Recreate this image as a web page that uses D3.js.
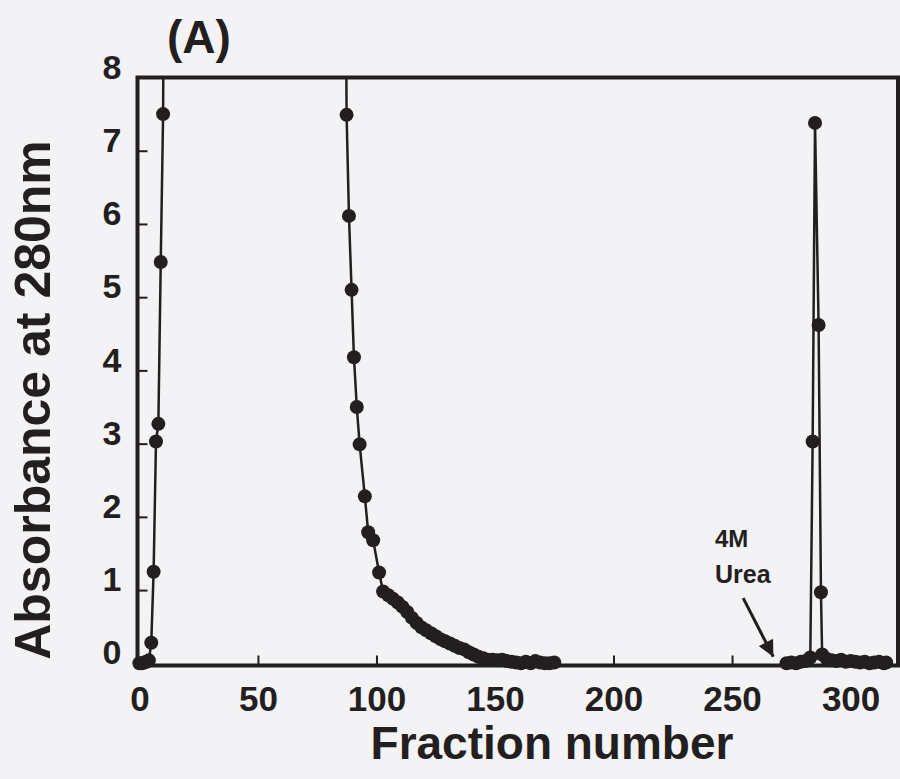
<!DOCTYPE html>
<html lang="en">

<head>
    <meta charset="UTF-8">
    <title>Fraction profile (A)</title>
    <script src='https://d3js.org/d3.v7.min.js'></script>
    <style>
        body { margin: 0; background: #f3f2f4; }
        text { font-family: "Liberation Sans", Arial, Helvetica, sans-serif; font-weight: bold; fill: #231f20; }
    </style>
</head>

<body>
    <script>
        // run 1: load + wash (11 and 86 are off scale, > 8)
        const fracRun1 = [0, 1, 2, 3, 4, 5, 6, 7, 8, 9, 10, 11,
            86, 87.4, 88.4, 89.5, 90.5, 91.7, 92.9, 95.1, 96.5, 98.6, 101.1, 102.8,
            105, 107, 109, 111, 113, 115, 117, 119, 121, 123, 125, 127, 129, 131, 133, 135, 137, 139,
            141, 143, 145, 147, 149, 151, 153, 155, 157, 159, 161, 163, 165, 167, 169, 171, 173, 175];
        const absRun1 = [0, 0, 0.01, 0.02, 0.04, 0.28, 1.25, 3.03, 3.27, 5.48, 7.5, 15,
            15, 7.49, 6.11, 5.1, 4.18, 3.5, 2.99, 2.28, 1.79, 1.68, 1.24, 0.98,
            0.93, 0.88, 0.83, 0.77, 0.7, 0.62, 0.55, 0.49, 0.45, 0.41, 0.37, 0.33, 0.3, 0.27, 0.24, 0.21, 0.19, 0.15,
            0.12, 0.09, 0.07, 0.05, 0.05, 0.04, 0.05, 0.03, 0.02, 0.01, 0, 0.02, 0, 0.03, 0.01, 0, 0, 0.01];

        // run 2: 4M urea elution
        const fracRun2 = [273, 275, 277, 279, 281, 283, 284, 285, 286.5, 287.5, 288, 290, 292, 294, 296, 298,
            300, 302, 304, 306, 308, 310, 312, 314, 315];
        const absRun2 = [0, 0.01, 0, 0.02, 0.03, 0.08, 3.03, 7.38, 4.62, 0.97, 0.12, 0.06, 0.04, 0.03, 0.05, 0.02,
            0.03, 0.02, 0.01, 0.02, 0, 0.01, 0.02, 0, 0.01];

        const xTicks = [0, 50, 100, 150, 200, 250, 300];
        const yTicks = [0, 1, 2, 3, 4, 5, 6, 7, 8];

        const ink = "#231f20";
        const width = 900, height = 779;

        const svg = d3.select("body").append("svg")
            .attr("width", width)
            .attr("height", height);

        const x = d3.scaleLinear().domain([-0.8, 320]).range([137.5, 898]);
        const y = d3.scaleLinear().domain([-0.03, 8]).range([665.5, 77.5]);

        // clip only the top (off-scale part of the peaks)
        svg.append("clipPath").attr("id", "clip")
            .append("rect")
            .attr("x", 0).attr("y", y(8))
            .attr("width", width).attr("height", height - y(8));

        // y axis: ticks inside
        const yAxis = svg.append("g")
            .attr("transform", `translate(${x.range()[0]},0)`)
            .call(d3.axisLeft(y).tickValues(yTicks).tickFormat(d3.format("d")).tickSize(-10).tickPadding(16));
        yAxis.select(".domain").remove();
        yAxis.selectAll(".tick line").attr("stroke", ink).attr("stroke-width", 2)
            .attr("display", d => (d === 0 || d === 8) ? "none" : null);
        yAxis.selectAll(".tick text").attr("font-size", 34).attr("dy", "0.02em")
            .attr("fill", ink);

        // x axis: ticks inside
        const xAxis = svg.append("g")
            .attr("transform", `translate(0,${y.range()[0]})`)
            .call(d3.axisBottom(x).tickValues(xTicks).tickSize(-10).tickPadding(21));
        xAxis.select(".domain").remove();
        xAxis.selectAll(".tick line").attr("stroke", ink).attr("stroke-width", 2)
            .attr("display", d => d === 0 ? "none" : null);
        xAxis.selectAll(".tick text").attr("font-size", 35).attr("fill", ink);

        // frame
        svg.append("rect")
            .attr("x", x.range()[0]).attr("y", y.range()[1])
            .attr("width", x.range()[1] - x.range()[0])
            .attr("height", y.range()[0] - y.range()[1])
            .attr("fill", "none").attr("stroke", ink).attr("stroke-width", 4);

        const line = d3.line()
            .x(d => x(d[0]))
            .y(d => y(d[1]));

        const runs = [d3.zip(fracRun1, absRun1), d3.zip(fracRun2, absRun2)];

        const plot = svg.append("g").attr("clip-path", "url(#clip)");
        runs.forEach(run => {
            plot.append("path")
                .datum(run)
                .attr("fill", "none").attr("stroke", ink)
                .attr("stroke-width", 2.5)
                .attr("d", line);
            plot.selectAll(null)
                .data(run.filter(d => d[1] <= 8))
                .enter()
                .append("circle")
                .attr("cx", d => x(d[0]))
                .attr("cy", d => y(d[1]))
                .attr("r", 7)
                .attr("fill", ink);
        });

        // 4M urea marker
        svg.append("defs").append("marker")
            .attr("id", "head")
            .attr("viewBox", "0 0 10 10")
            .attr("refX", 10).attr("refY", 5)
            .attr("markerWidth", 19).attr("markerHeight", 16)
            .attr("markerUnits", "userSpaceOnUse")
            .attr("orient", "auto")
            .append("path").attr("d", "M0,0 L10,5 L0,10 z").attr("fill", ink);

        svg.append("line")
            .attr("x1", x(254.7)).attr("y1", y(0.89))
            .attr("x2", x(267.4)).attr("y2", y(0.09))
            .attr("stroke", ink).attr("stroke-width", 3)
            .attr("marker-end", "url(#head)");

        svg.append("text").attr("x", x(242.8)).attr("y", y(1.59))
            .attr("font-size", 24).text("4M");
        svg.append("text").attr("x", x(242.8)).attr("y", y(1.1))
            .attr("font-size", 25).text("Urea");

        // titles
        svg.append("text")
            .attr("x", 552).attr("y", 759)
            .attr("text-anchor", "middle")
            .attr("font-size", 46)
            .text("Fraction number");

        svg.append("text")
            .attr("transform", "translate(50,400) rotate(-90)")
            .attr("text-anchor", "middle")
            .attr("font-size", 50)
            .text("Absorbance at 280nm");

        svg.append("text")
            .attr("x", 167).attr("y", 53)
            .attr("font-size", 46)
            .text("(A)");
    </script>
</body>

</html>
